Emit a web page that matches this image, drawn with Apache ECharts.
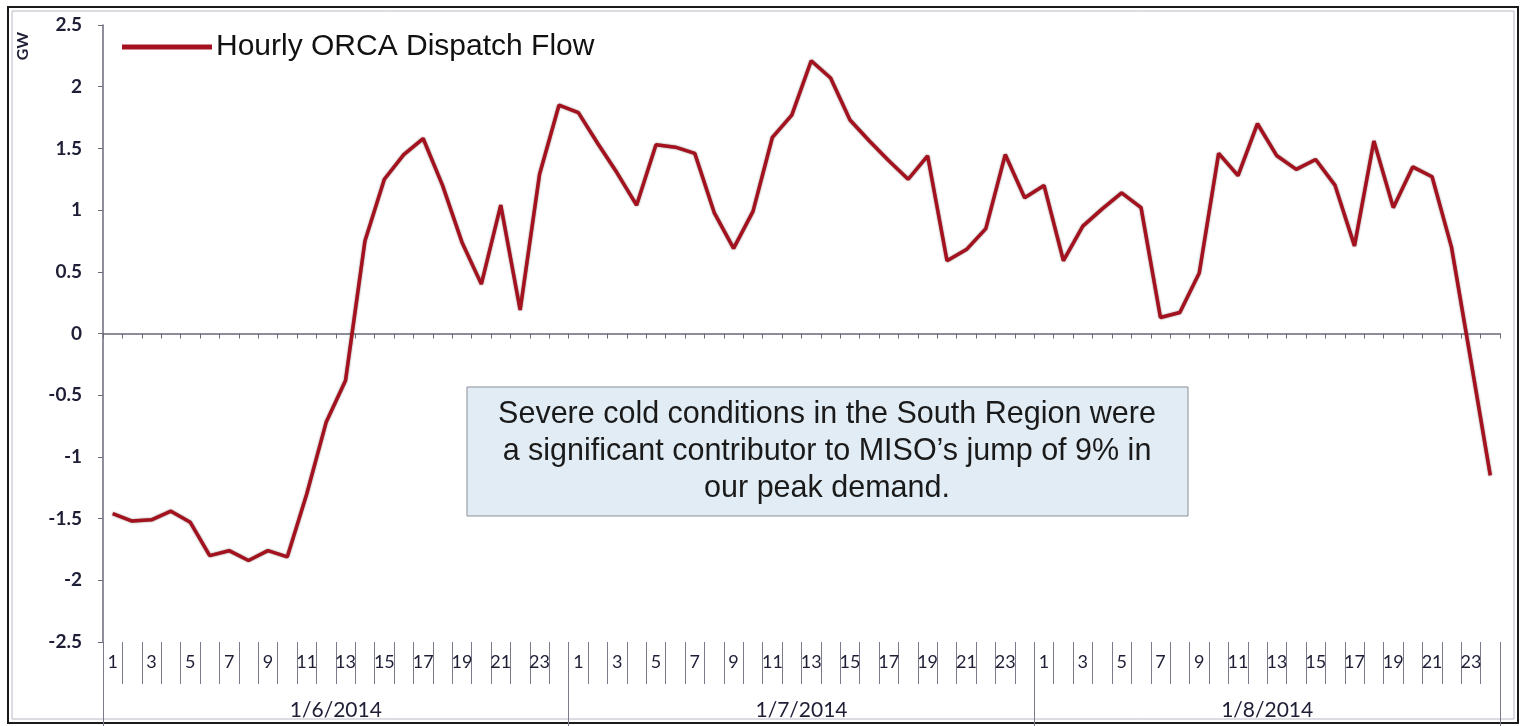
<!DOCTYPE html>
<html>
<head>
<meta charset="utf-8">
<title>Hourly ORCA Dispatch Flow</title>
<script src="https://cdn.jsdelivr.net/npm/echarts@6/dist/echarts.min.js"></script>
<style>
  html, body { margin: 0; padding: 0; background: #fff; }
  #chart { width: 1520px; height: 726px; }
</style>
</head>
<body>
<div id="chart"></div>
<script>
// Dates shown on the lower axis, one group of 24 hours per day
const days = ['1/6/2014', '1/7/2014', '1/8/2014'];
const hoursPerDay = ['1','2','3','4','5','6','7','8','9','10','11','12',
                     '13','14','15','16','17','18','19','20','21','22','23','24'];

// Hourly ORCA dispatch flow (GW), one array per day
const flowDay1 = [-1.46, -1.52, -1.51, -1.44, -1.53, -1.80, -1.76, -1.84, -1.76, -1.81, -1.30, -0.72,
                  -0.38, 0.75, 1.25, 1.45, 1.58, 1.20, 0.74, 0.40, 1.04, 0.19, 1.29, 1.85];
const flowDay2 = [1.79, 1.54, 1.30, 1.04, 1.53, 1.51, 1.46, 0.98, 0.69, 0.99, 1.59, 1.77,
                  2.21, 2.07, 1.73, 1.56, 1.40, 1.25, 1.44, 0.59, 0.68, 0.85, 1.45, 1.10];
const flowDay3 = [1.20, 0.59, 0.87, 1.01, 1.14, 1.02, 0.13, 0.17, 0.49, 1.46, 1.28, 1.70,
                  1.44, 1.33, 1.41, 1.20, 0.71, 1.56, 1.02, 1.35, 1.27, 0.70, -0.22, -1.15];

const seriesName = 'Hourly ORCA Dispatch Flow';
const noteText = 'Severe cold conditions in the South Region were\n' +
                 'a significant contributor to MISO\u2019s jump of 9% in\n' +
                 'our peak demand.';

// Category axis: every hour of every day
const hourCategories = [];
days.forEach(() => hoursPerDay.forEach(h => hourCategories.push(h)));
const flowValues = flowDay1.concat(flowDay2, flowDay3);

const axisColor = '#6a6a7a';
const labelColor = '#1e1e36';
const labelFont = 'Lato, "Open Sans", sans-serif';

const chart = echarts.init(document.getElementById('chart'), null, { renderer: 'canvas' });

chart.setOption({
  animation: false,
  backgroundColor: '#ffffff',
  grid: { left: 103, right: 20, top: 25, bottom: 84, containLabel: false },
  legend: {
    show: true,
    left: 122,
    top: 32,
    padding: 0,
    icon: 'rect',
    itemWidth: 90,
    itemHeight: 5,
    itemGap: 6,
    textStyle: { fontFamily: '"Liberation Sans", Arial, sans-serif', fontSize: 30, color: '#111', padding: [0, 0, 0, -1] },
    data: [seriesName]
  },
  xAxis: [
    {
      // axis line through zero with small tick marks
      type: 'category',
      data: hourCategories,
      boundaryGap: true,
      axisLine: { show: true, onZero: true, lineStyle: { color: axisColor, width: 1.5 } },
      axisTick: { show: true, interval: 0, length: 5, lineStyle: { color: axisColor } },
      axisLabel: { show: false },
      splitLine: { show: false }
    },
    {
      // hour labels with separators
      type: 'category',
      data: hourCategories,
      position: 'bottom',
      boundaryGap: true,
      axisLine: { show: false, onZero: false },
      axisTick: { show: true, interval: 0, length: 42, lineStyle: { color: '#7a7a8a' } },
      axisLabel: { show: true, interval: 1, margin: 11, fontFamily: labelFont, fontSize: 18, color: labelColor },
      splitLine: { show: false }
    },
    {
      // day labels with separators
      type: 'category',
      data: days,
      position: 'bottom',
      boundaryGap: true,
      axisLine: { show: false, onZero: false },
      axisTick: { show: true, interval: 0, length: 84, lineStyle: { color: '#7a7a8a' } },
      axisLabel: { show: true, interval: 0, margin: 58, fontFamily: labelFont, fontSize: 21, color: labelColor },
      splitLine: { show: false }
    }
  ],
  yAxis: {
    type: 'value',
    min: -2.5,
    max: 2.5,
    interval: 0.5,
    axisLine: { show: true, lineStyle: { color: axisColor, width: 1.5 } },
    axisTick: { show: true, length: 5, lineStyle: { color: axisColor } },
    axisLabel: { margin: 21, fontFamily: labelFont, fontSize: 19, fontWeight: 'bold', color: labelColor },
    splitLine: { show: false }
  },
  series: [
    {
      name: seriesName,
      type: 'line',
      xAxisIndex: 0,
      data: flowValues,
      symbol: 'none',
      smooth: false,
      color: '#a3121e',
      lineStyle: { color: '#a3121e', width: 3.5, shadowColor: 'rgba(40,0,0,0.55)', shadowBlur: 2 },
      z: 5
    }
  ],
  graphic: [
    {
      // outer frame
      type: 'rect',
      shape: { x: 8, y: 7, width: 1510, height: 716 },
      style: { fill: 'none', stroke: '#1a1a1a', lineWidth: 2 },
      silent: true
    },
    {
      type: 'rect',
      shape: { x: 12, y: 11, width: 1502, height: 708 },
      style: { fill: 'none', stroke: '#b8b8c4', lineWidth: 1 },
      silent: true
    },
    {
      // unit label
      type: 'text',
      x: 23,
      y: 46,
      rotation: Math.PI / 2,
      style: {
        text: 'GW',
        font: 'bold 16px ' + labelFont,
        fill: labelColor,
        textAlign: 'center',
        textVerticalAlign: 'middle'
      },
      silent: true
    },
    {
      // note box
      type: 'rect',
      shape: { x: 467, y: 387, width: 721, height: 129 },
      style: { fill: '#e1ecf4', stroke: '#8a8f98', lineWidth: 1 },
      z: 10,
      silent: true
    },
    {
      type: 'text',
      x: 827,
      y: 452,
      style: {
        text: noteText,
        font: '30.5px "Liberation Sans", Arial, sans-serif',
        fill: '#1a1a1a',
        textAlign: 'center',
        textVerticalAlign: 'middle',
        lineHeight: 37
      },
      z: 11,
      silent: true
    }
  ]
});
</script>
</body>
</html>
